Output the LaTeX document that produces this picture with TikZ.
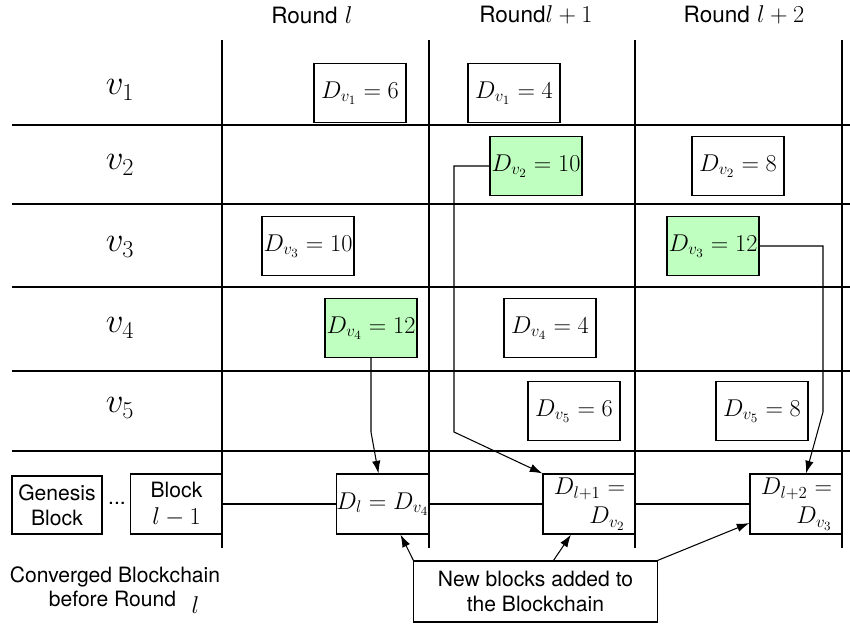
\documentclass[tikz,border=0pt]{standalone}
\usepackage{amsmath,amssymb}
\usepackage{fontspec}
\newfontfamily\hvfont{TeX Gyre Heros}
\usetikzlibrary{arrows.meta,calc}

\newcommand{\txt}{\hvfont\fontsize{15}{18}\selectfont}
\newcommand{\mth}{\fontsize{17.5}{21}\selectfont}

\begin{document}
\begin{tikzpicture}[x=0.025cm, y=-0.025cm, line width=0.75pt, font=\mth,
  dbox/.style={draw, minimum width=2.3cm, minimum height=1.475cm, inner sep=0pt},
  chosen/.style={dbox, fill=green!25},
  vbox/.style={dbox, font=\fontsize{18.5}{22}\selectfont},
  txtbox/.style={draw, font=\txt, align=center, inner sep=0pt},
  arr/.style={-{Latex[length=9pt,width=6pt]}}]
  \useasboundingbox (0,0) rectangle (850,624);

  % Grid
  \foreach \y in {125,204,287,371,451} {
    \draw (12,\y) -- (850,\y);
  }
  \foreach \x in {222,429,635,842} {
    \draw (\x,40) -- (\x,548);
  }

  % Round headers
  \node (r0) at (312,15) {{\hvfont\fontsize{16}{19}\selectfont Round} $l$};
  \node (r1) at (536,15) {{\hvfont\fontsize{16}{19}\selectfont Round}$l+1$};
  \node (r2) at (744,15) {{\hvfont\fontsize{16}{19}\selectfont Round} $l+2$};

  % Nodes v_i
  \foreach \i/\y in {1/90,2/165,3/247,4/328,5/408} {
    \node (v\i) at (120,\y) {\fontsize{27}{30}\selectfont $v_{\i}$};
  }

  % Proposed values
  \node[vbox]         (d1a) at (360,93)  {$D_{v_1}=6$};
  \node[vbox]         (d1b) at (514,93)  {$D_{v_1}=4$};
  \node[vbox, chosen] (d2b) at (536,166) {$D_{v_2}=10$};
  \node[vbox]         (d2c) at (738,166) {$D_{v_2}=8$};
  \node[vbox]         (d3a) at (308,246) {$D_{v_3}=10$};
  \node[vbox, chosen] (d3c) at (713,246) {$D_{v_3}=12$};
  \node[vbox, chosen] (d4a) at (371,328) {$D_{v_4}=12$};
  \node[vbox]         (d4b) at (550,328) {$D_{v_4}=4$};
  \node[vbox]         (d5b) at (574,411) {$D_{v_5}=6$};
  \node[vbox]         (d5c) at (762,411) {$D_{v_5}=8$};

  % Blockchain
  \node[txtbox, minimum width=2.25cm, minimum height=1.45cm] (gen) at (57,505) {Genesis\\Block};
  \node[font=\txt] (dots) at (117,503) {...};
  \node[txtbox, minimum width=2.3cm, minimum height=1.5cm] (prev) at (176.5,504) {Block\\[1pt]{\mth$l-1$}};
  \node[dbox, minimum height=1.5cm] (bl) at (382.5,504) {$D_l=D_{v_4}$};
  \node[dbox, minimum height=1.5cm, text width=1.8cm, align=right] (blp) at (589,504)
    {$D_{l+1}=$\hspace*{0.25cm}\\$D_{v_2}$\hspace*{0.25cm}};
  \node[dbox, minimum height=1.5cm, text width=1.8cm, align=right] (blpp) at (796,504)
    {$D_{l+2}=$\hspace*{0.25cm}\\$D_{v_3}$\hspace*{0.25cm}};
  \draw (prev) -- (bl);
  \draw (bl) -- (blp);
  \draw (blp) -- (blpp);

  % Labels
  \node[txtbox, minimum width=6.075cm, minimum height=1.525cm] (newblk) at (535.5,591.5) {New blocks added to\\the Blockchain};
  \node[font=\txt] (conv) at (115,577) {Converged Blockchain};
  \node[font=\txt] (before) at (124,602) {before Round\hspace{11pt}\raisebox{-5pt}{\mth$l$}};

  % Chosen blocks
  \draw[arr] (d4a.south) -- ++(0,74) -- ($(bl.north)+(-4,0)$);
  \draw[arr] (d2b.west) -| (454,432) -- (blp.north west);
  \draw[arr] (d3c.east) -| (823,412) -- ($(blpp.north)+(10,0)$);
  \draw[arr] (newblk.north west) -- ($(bl.south)+(18,0)$);
  \draw[arr] ($(newblk.north)+(18,0)$) -- ($(blp.south)+(-18,0)$);
  \draw[arr] (newblk.north east) -- ($(blpp.west)+(0,19)$);
\end{tikzpicture}
\end{document}
